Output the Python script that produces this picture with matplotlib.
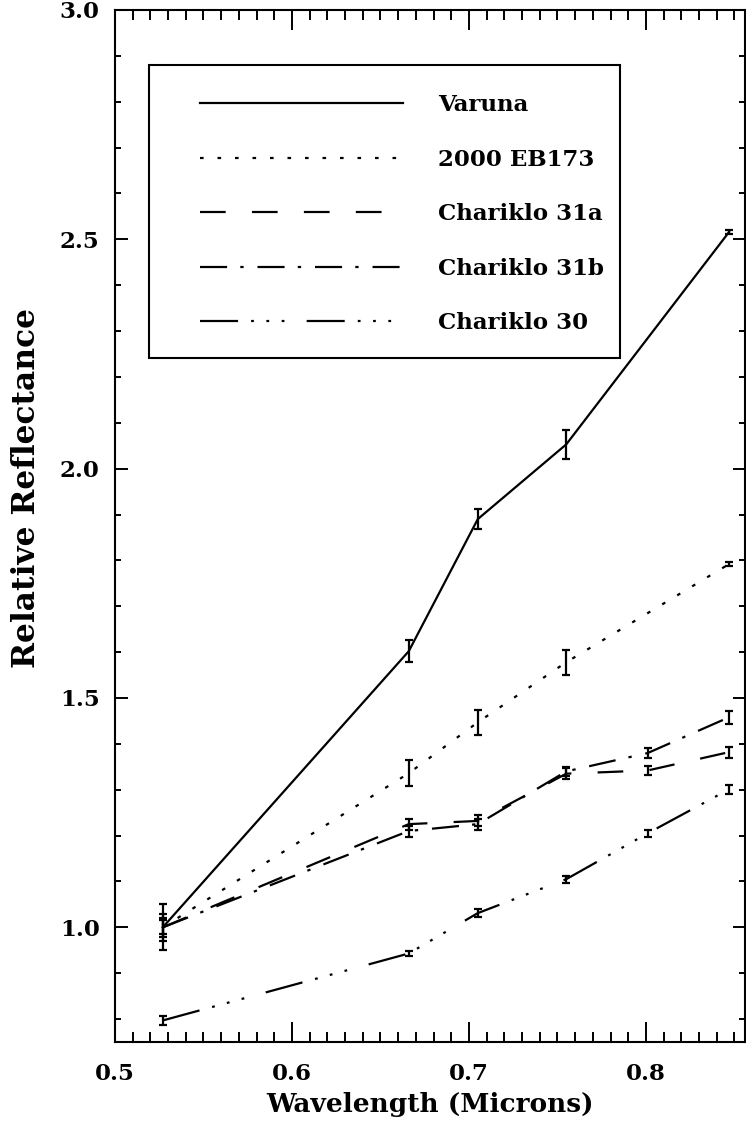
import matplotlib
matplotlib.use('Agg')

import numpy as np
import matplotlib.pyplot as plt
from matplotlib.ticker import MultipleLocator
from matplotlib.patches import Rectangle

# ------------ data -------------------------------------
wave_all = [0.527, 0.666, 0.705, 0.755, 0.801, 0.847]
wave_no80 = [0.527, 0.666, 0.705, 0.755, 0.847]

varuna = [1.0, 1.602, 1.890, 2.053, 2.516]
varuna_err = [0.05, 0.024, 0.022, 0.032, 0.004]

eb173 = [1.0, 1.336, 1.447, 1.578, 1.792]
eb173_err = [0.03, 0.028, 0.027, 0.027, 0.004]

chariklo_31a = [1.0, 1.225, 1.232, 1.335, 1.342, 1.382]
chariklo_31a_err = [0.02, 0.012, 0.012, 0.012, 0.01, 0.012]

chariklo_31b = [1.0, 1.21, 1.225, 1.34, 1.380, 1.458]
chariklo_31b_err = [0.015, 0.012, 0.012, 0.01, 0.01, 0.014]

chariklo_30 = [0.797, 0.943, 1.031, 1.105, 1.205, 1.301]
chariklo_30_err = [0.01, 0.005, 0.008, 0.008, 0.007, 0.01]

labels = ['Varuna', '2000 EB173', 'Chariklo 31a', 'Chariklo 31b', 'Chariklo 30']

# IDL-like line styles (dash lengths in points)
styles = [
    '-',
    (0, (2.6, 10)),
    (0, (18.5, 18.9)),
    (0, (19.5, 9.5, 2.4, 10)),
    (0, (27.4, 9.4, 2, 9, 2, 9, 2, 16)),
]

plt.rcParams['font.family'] = 'DejaVu Serif'
plt.rcParams['font.weight'] = 'bold'
plt.rcParams['lines.scale_dashes'] = False

fig = plt.figure(figsize=(7.46, 11.29), dpi=100)
ax = fig.add_axes([115 / 746, 1 - 1042 / 1129, 630 / 746, 1032 / 1129])

series = [
    (wave_no80, varuna, varuna_err),
    (wave_no80, eb173, eb173_err),
    (wave_all, chariklo_31a, chariklo_31a_err),
    (wave_all, chariklo_31b, chariklo_31b_err),
    (wave_all, chariklo_30, chariklo_30_err),
]

for (x, y, e), ls, lab in zip(series, styles, labels):
    ax.plot(x, y, color='k', lw=1.6, linestyle=ls, label=lab)
    ax.errorbar(x, y, yerr=e, fmt='none', ecolor='k', elinewidth=1.6,
                capsize=3, capthick=1.6)

ax.set_xlim(0.5, 0.856)
ax.set_ylim(0.75, 3.0)

ax.xaxis.set_major_locator(MultipleLocator(0.1))
ax.xaxis.set_minor_locator(MultipleLocator(0.01))
ax.yaxis.set_major_locator(MultipleLocator(0.5))
ax.yaxis.set_minor_locator(MultipleLocator(0.1))
ax.xaxis.set_major_formatter(plt.FormatStrFormatter('%.1f'))
ax.yaxis.set_major_formatter(plt.FormatStrFormatter('%.1f'))

ax.tick_params(axis='x', which='major', direction='in', length=14.4, width=1.4,
               top=True, labelsize=16.5, pad=15)
ax.tick_params(axis='x', which='minor', direction='in', length=7.2, width=1.4, top=True)
ax.tick_params(axis='y', which='major', direction='in', length=9, width=1.4,
               right=True, labelsize=16.5, pad=11)
ax.tick_params(axis='y', which='minor', direction='in', length=4.5, width=1.4, right=True)
for s in ax.spines.values():
    s.set_linewidth(1.5)

ax.set_xlabel('Wavelength (Microns)', fontsize=19, fontweight='bold')
ax.set_ylabel('Relative Reflectance', fontsize=22.5, fontweight='bold')
ax.xaxis.set_label_coords(0.5, -0.048)
ax.yaxis.set_label_coords(-0.116, 0.537)

# legend box
ax.add_patch(Rectangle(((149 - 115) / 630, (1042 - 358) / 1032),
                       (620 - 149) / 630, (358 - 65) / 1032,
                       transform=ax.transAxes, fill=False, lw=1.5, ec='k'))
ax.legend(loc='upper left', bbox_to_anchor=((200 - 115) / 630, (1042 - 94) / 1032),
          frameon=False, fontsize=16.5, handlelength=8.86, handletextpad=1.53,
          labelspacing=1.42, borderpad=0, borderaxespad=0)

fig.savefig('out.png', dpi=100)
